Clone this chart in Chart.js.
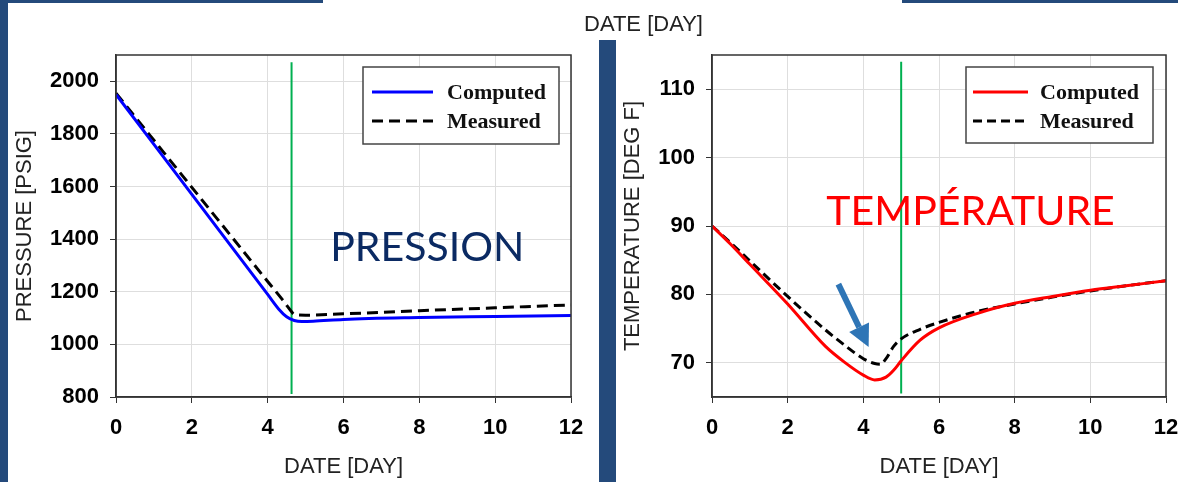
<!DOCTYPE html>
<html lang="fr">
<head>
<meta charset="UTF-8">
<title>Pression / Température</title>
<script src="https://cdn.jsdelivr.net/npm/chart.js"></script>
<style>
  body { margin: 0; background: #fff; }
  .page { position: relative; width: 1178px; height: 482px; overflow: hidden; background: #fff; }
  .bar { position: absolute; background: #244a7b; }
  canvas { position: absolute; top: 0; }
  .top-title {
    position: absolute; left: 584px; top: 11px;
    font: 22px "Liberation Sans", Arial, sans-serif; line-height: 26px; color: #222;
  }
</style>
</head>
<body>
<div class="page">
  <canvas id="pressChart" width="598" height="482" style="left:0"></canvas>
  <canvas id="tempChart" width="588" height="482" style="left:590px"></canvas>

  <!-- slide decoration -->
  <div class="bar" style="left:0;top:0;width:8px;height:482px"></div>
  <div class="bar" style="left:0;top:0;width:323px;height:3px"></div>
  <div class="bar" style="left:599px;top:40px;width:17px;height:442px"></div>
  <div class="bar" style="left:902px;top:0;width:276px;height:3px"></div>
  <div class="top-title">DATE [DAY]</div>
</div>

<script>
// ---- data ----
const dayTicks = [0, 2, 4, 6, 8, 10, 12];

// pressure (psig)
const pressTicks = [800, 1000, 1200, 1400, 1600, 1800, 2000];
const pressComputedDays = [0, 1, 2, 3, 4, 4.3, 4.5, 4.7, 4.9, 5.2, 6, 8, 10, 12];
const pressComputed = [1950, 1760, 1570, 1380, 1190, 1133, 1105, 1091, 1087, 1088, 1095, 1102, 1106, 1110];
const pressMeasuredDays = [0, 1, 2, 3, 4, 4.4, 4.6, 4.7, 5, 6, 8, 10, 12];
const pressMeasured = [1955, 1776, 1597, 1418, 1239, 1168, 1130, 1114, 1111, 1116, 1128, 1139, 1150];
const pressMarkDay = 4.63;
const pressMarkRange = [811, 2072];

// temperature (deg F)
const tempTicks = [70, 80, 90, 100, 110];
const tempComputedDays = [0, 0.5, 1, 2, 3, 3.5, 4, 4.3, 4.6, 4.8, 5, 5.5, 6, 7, 8, 9, 10, 11, 12];
const tempComputed = [90, 87.3, 84.4, 78.6, 72.4, 70.1, 68.2, 67.5, 67.9, 68.9, 70.3, 73.3, 75.1, 77.2, 78.7, 79.7, 80.6, 81.3, 82];
const tempMeasuredDays = [0, 0.5, 1, 2, 3, 3.5, 4, 4.3, 4.45, 4.6, 4.8, 5, 5.5, 6, 7, 8, 9, 10, 11, 12];
const tempMeasured = [90, 87.5, 84.9, 79.7, 74.8, 72.6, 70.6, 69.9, 69.8, 70.6, 72.4, 73.5, 74.9, 75.9, 77.5, 78.6, 79.6, 80.5, 81.3, 82];
const tempMarkDay = 5.0;
const tempMarkRange = [65.5, 114];

Chart.defaults.font.family = '"Liberation Sans", Arial, sans-serif';
Chart.defaults.color = '#000';

function pts(xs, ys) { return xs.map((x, i) => ({ x: x, y: ys[i] })); }

// full black frame around the plot area
const framePlugin = {
  id: 'frame',
  afterDraw(chart) {
    const { ctx, chartArea: a } = chart;
    ctx.save();
    ctx.strokeStyle = '#333';
    ctx.lineWidth = 1.5;
    ctx.strokeRect(a.left, a.top, a.right - a.left, a.bottom - a.top);
    ctx.restore();
  }
};

// boxed legend like the original plots
const boxLegendPlugin = {
  id: 'boxLegend',
  afterDatasetsDraw(chart, args, o) {
    const { ctx, chartArea: a } = chart;
    const x = a.right - o.right - o.w, y = a.top + o.top;
    ctx.save();
    ctx.fillStyle = '#fff';
    ctx.fillRect(x, y, o.w, o.h);
    ctx.strokeStyle = '#444';
    ctx.lineWidth = 1.5;
    ctx.strokeRect(x, y, o.w, o.h);
    ctx.font = 'bold 22px "Liberation Serif", "Times New Roman", serif';
    ctx.textBaseline = 'middle';
    chart.data.datasets.filter(d => !d.hideInLegend).forEach((d, i) => {
      const ry = y + o.rows[i];
      ctx.strokeStyle = d.borderColor;
      ctx.lineWidth = d.borderWidth;
      ctx.setLineDash(d.borderDash || []);
      ctx.beginPath();
      ctx.moveTo(x + o.line[0], ry);
      ctx.lineTo(x + o.line[1], ry);
      ctx.stroke();
      ctx.setLineDash([]);
      ctx.fillStyle = '#111';
      ctx.fillText(d.label, x + o.textX, ry + 1);
    });
    ctx.restore();
  }
};

// big slide captions + arrow
const notesPlugin = {
  id: 'notes',
  afterDraw(chart, args, o) {
    const { ctx, scales } = chart;
    ctx.save();
    (o.texts || []).forEach(t => {
      ctx.font = '41px Lato, "Open Sans", sans-serif';
      ctx.fillStyle = t.color;
      ctx.textBaseline = 'alphabetic';
      ctx.fillText(t.text, scales.x.getPixelForValue(t.x), scales.y.getPixelForValue(t.y));
    });
    if (o.arrow) {
      const ar = o.arrow;
      const x0 = scales.x.getPixelForValue(ar.from[0]), y0 = scales.y.getPixelForValue(ar.from[1]);
      const x1 = scales.x.getPixelForValue(ar.to[0]), y1 = scales.y.getPixelForValue(ar.to[1]);
      const ang = Math.atan2(y1 - y0, x1 - x0);
      const head = 22, hw = 11;
      const bx = x1 - head * Math.cos(ang), by = y1 - head * Math.sin(ang);
      ctx.strokeStyle = ar.color;
      ctx.fillStyle = ar.color;
      ctx.lineWidth = 6;
      ctx.beginPath();
      ctx.moveTo(x0, y0);
      ctx.lineTo(bx, by);
      ctx.stroke();
      ctx.beginPath();
      ctx.moveTo(x1, y1);
      ctx.lineTo(bx + hw * Math.sin(ang), by - hw * Math.cos(ang));
      ctx.lineTo(bx - hw * Math.sin(ang), by + hw * Math.cos(ang));
      ctx.closePath();
      ctx.fill();
    }
    ctx.restore();
  }
};

function makeScales(yMin, yMax, yTicks, yTitle, yWidth) {
  const tickFont = { size: 22, weight: 'bold' };
  const titleFont = { size: 22 };
  return {
    x: {
      type: 'linear', min: 0, max: 12,
      afterBuildTicks: s => { s.ticks = dayTicks.map(v => ({ value: v })); },
      // fixed band height; don't let the end labels squeeze the plot
      afterFit: s => { s.height = 85; s.paddingLeft = 0; s.paddingRight = 0; },
      ticks: { font: tickFont, padding: 12, maxRotation: 0, color: '#000', callback: v => String(v) },
      grid: { color: '#dedede', tickColor: '#333', tickLength: 6 },
      border: { color: '#333', width: 1.5 },
      title: { display: true, text: 'DATE [DAY]', font: titleFont, color: '#222', padding: { top: 0, bottom: 2 } }
    },
    y: {
      type: 'linear', min: yMin, max: yMax,
      afterBuildTicks: s => { s.ticks = yTicks.map(v => ({ value: v })); },
      afterFit: s => { s.width = yWidth; },
      ticks: { font: tickFont, padding: 11, color: '#000', callback: v => String(v) },
      grid: { color: '#dedede', tickColor: '#333', tickLength: 6 },
      border: { color: '#333', width: 1.5 },
      title: { display: true, text: yTitle, font: titleFont, color: '#222', padding: { top: 4, bottom: 0 } }
    }
  };
}

const lineBase = { pointRadius: 0, fill: false, cubicInterpolationMode: 'monotone' };

new Chart(document.getElementById('pressChart'), {
  type: 'line',
  data: {
    datasets: [
      Object.assign({ label: 'Computed', data: pts(pressComputedDays, pressComputed), borderColor: '#0000ff', borderWidth: 3 }, lineBase),
      Object.assign({ label: 'Measured', data: pts(pressMeasuredDays, pressMeasured), borderColor: '#000', borderWidth: 3, borderDash: [11, 6] }, lineBase),
      { label: 'mark', hideInLegend: true, data: pts([pressMarkDay, pressMarkDay], pressMarkRange), borderColor: '#00b050', borderWidth: 2, pointRadius: 0 }
    ]
  },
  options: {
    responsive: false, animation: false, events: [],
    layout: { padding: { left: 8, top: 55, right: 27, bottom: 0 } },
    scales: makeScales(800, 2100, pressTicks, 'PRESSURE [PSIG]', 108),
    plugins: {
      legend: { display: false }, tooltip: { enabled: false },
      boxLegend: { right: 12, top: 12, w: 196, h: 77, rows: [25, 54], line: [9, 70], textX: 84 },
      notes: { texts: [{ text: 'PRESSION', x: 5.65, y: 1316, color: '#0b2a63' }] }
    }
  },
  plugins: [framePlugin, boxLegendPlugin, notesPlugin]
});

new Chart(document.getElementById('tempChart'), {
  type: 'line',
  data: {
    datasets: [
      Object.assign({ label: 'Computed', data: pts(tempComputedDays, tempComputed), borderColor: '#ff0000', borderWidth: 3 }, lineBase),
      Object.assign({ label: 'Measured', data: pts(tempMeasuredDays, tempMeasured), borderColor: '#000', borderWidth: 3, borderDash: [9, 5] }, lineBase),
      { label: 'mark', hideInLegend: true, data: pts([tempMarkDay, tempMarkDay], tempMarkRange), borderColor: '#00b050', borderWidth: 2, pointRadius: 0 }
    ]
  },
  options: {
    responsive: false, animation: false, events: [],
    layout: { padding: { left: 26, top: 55, right: 12, bottom: 0 } },
    scales: makeScales(65, 115, tempTicks, 'TEMPERATURE [DEG F]', 96),
    plugins: {
      legend: { display: false }, tooltip: { enabled: false },
      boxLegend: { right: 13, top: 12, w: 187, h: 76, rows: [25, 54], line: [7, 62], textX: 74 },
      notes: {
        texts: [{ text: 'TEMPÉRATURE', x: 3.02, y: 90.1, color: '#ff0000' }],
        arrow: { from: [3.34, 81.5], to: [4.14, 72.3], color: '#2e75b6' }
      }
    }
  },
  plugins: [framePlugin, boxLegendPlugin, notesPlugin]
});
</script>
</body>
</html>
